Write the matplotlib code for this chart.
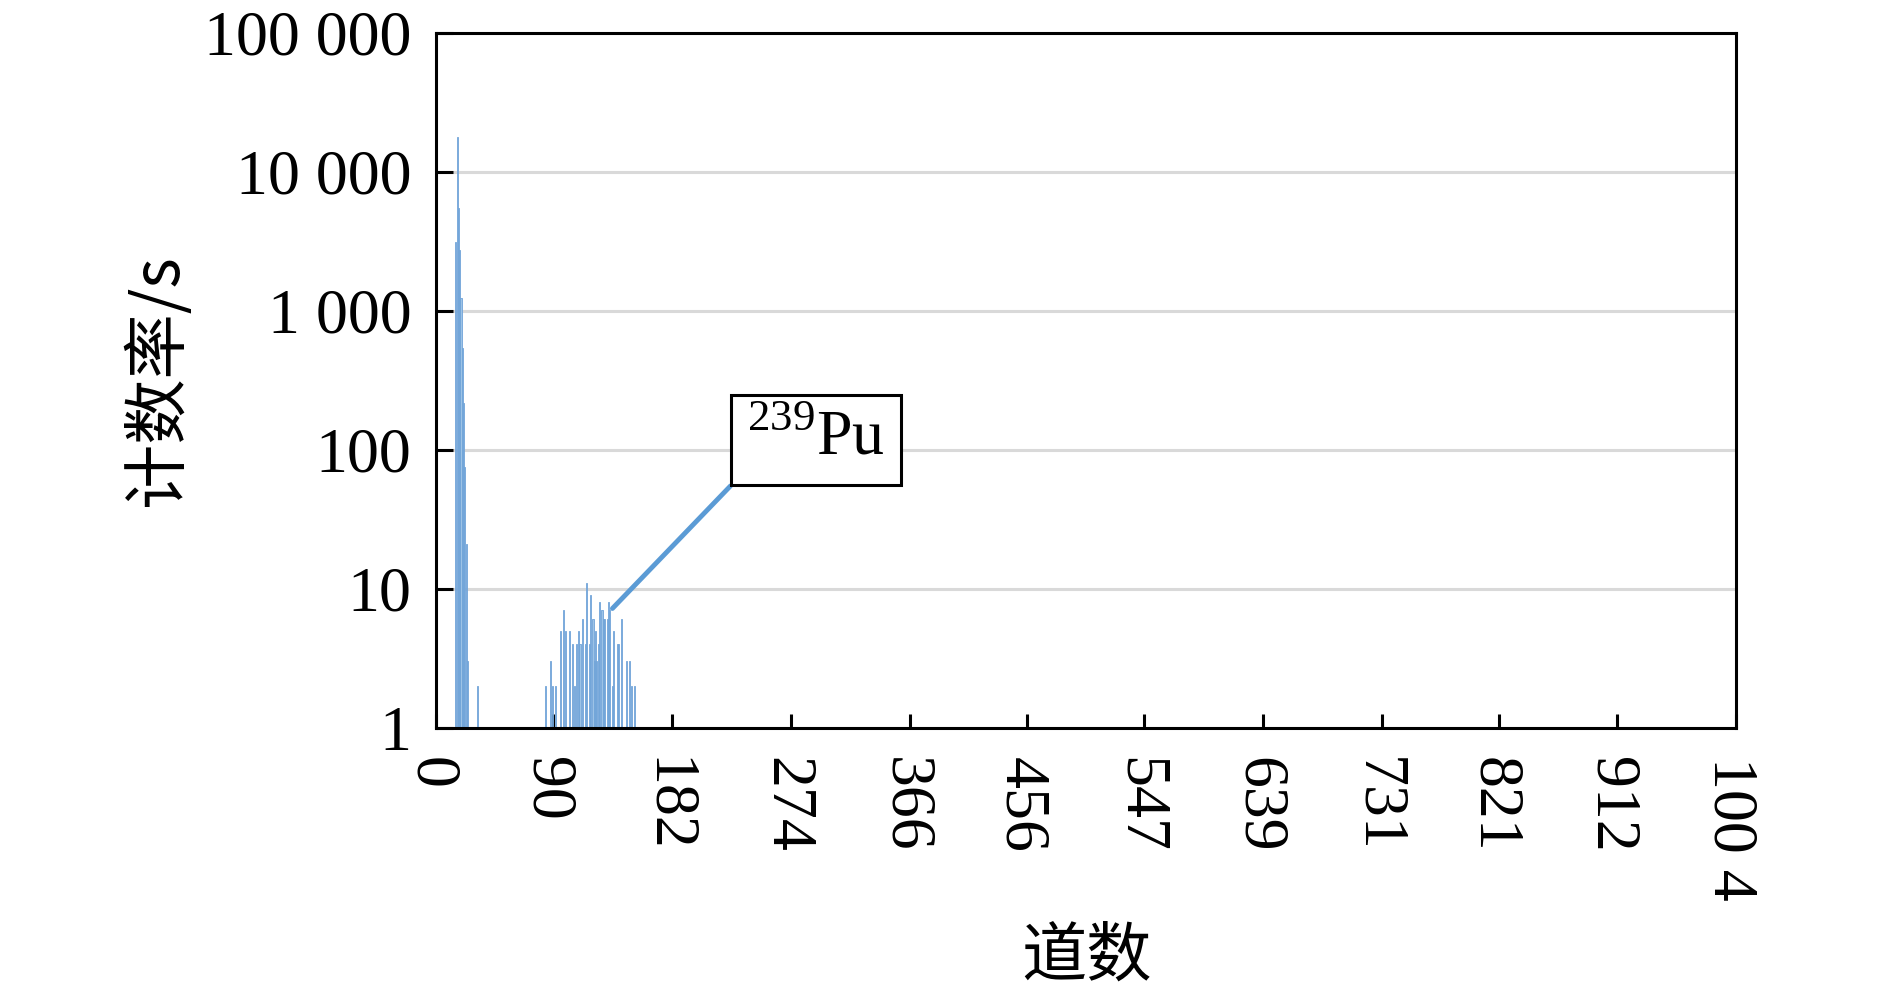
import matplotlib
matplotlib.use('Agg')
import matplotlib.pyplot as plt
import matplotlib.transforms as mtransforms
from matplotlib.ticker import NullLocator

# channel numbers with non-zero count rate
channels = [15, 16, 17, 18, 19, 20, 21, 22, 23, 24, 32,
            84, 88, 90, 92, 96, 98, 100, 103, 105, 107, 108, 110, 111,
            113, 115, 116, 118, 119, 121, 122, 123, 124, 125, 126, 128,
            129, 130, 132, 133, 134, 136, 137, 140, 141, 143, 147, 149,
            151, 153]
counts = [3090, 17700, 5450, 2730, 1235, 535, 216, 75, 21, 3, 2,
          2, 3, 2, 2, 5, 7, 5, 5, 4, 2, 4, 5, 4,
          6, 4, 11, 4, 9, 6, 3, 5, 3, 4, 8, 7,
          6, 6, 6, 8, 7, 2, 5, 4, 4, 6, 3, 3,
          2, 2]

x_ticks = [0, 90, 182, 274, 366, 456, 547, 639, 731, 821, 912, 1004]
x_tick_labels = ['0', '90', '182', '274', '366', '456', '547', '639',
                 '731', '821', '912', '100 4']
y_ticks = [1, 10, 100, 1000, 10000, 100000]
y_tick_labels = ['1', '10', '100', '1 000', '10 000', '100 000']

peak_label = r'$^{\mathrm{239}}$Pu'
peak_channel = 136
peak_value = 7.2

plt.rcParams['font.family'] = ['Liberation Serif', 'DejaVu Serif']
plt.rcParams['mathtext.fontset'] = 'custom'
plt.rcParams['mathtext.rm'] = 'Liberation Serif'

fig = plt.figure(figsize=(18.9, 9.91), dpi=100)
ax = fig.add_axes([0.2309, 0.2657, 0.6875, 0.7015])

ax.bar(channels, counts, width=0.9, color='#9dc3e6', edgecolor='#6fa3d8',
       linewidth=0.6, zorder=3)

ax.set_yscale('log')
ax.set_ylim(1, 100000)
ax.set_xlim(0, 1004)
ax.set_yticks(y_ticks)
ax.set_yticklabels(y_tick_labels)
ax.yaxis.set_minor_locator(NullLocator())
ax.set_xticks(x_ticks)
ax.set_xticklabels(x_tick_labels, rotation=-90, ha='center', va='top')

ax.tick_params(axis='both', direction='in', width=2.2, labelsize=46,
               colors='black')
ax.tick_params(axis='x', length=10, pad=21)
ax.tick_params(axis='y', length=12, pad=18)

# nudge the rotated x labels a little to the left, as in the original
shift = mtransforms.ScaledTranslation(-6 / 100, 0, fig.dpi_scale_trans)
for lab in ax.get_xticklabels():
    lab.set_transform(lab.get_transform() + shift)

# light grey horizontal grid
ax.yaxis.grid(True, color='#d9d9d9', linewidth=2.2, zorder=1)
ax.set_axisbelow(True)
for side in ax.spines.values():
    side.set_linewidth(2.2)
    side.set_color('black')
    side.set_zorder(5)

ax.set_ylabel('计数率/s', fontsize=47, family=['Noto Sans CJK SC', 'DejaVu Sans'])
ax.set_xlabel('道数', fontsize=47, family=['Noto Sans CJK SC', 'DejaVu Sans'])
ax.yaxis.set_label_coords(-0.188, 0.5)
ax.xaxis.set_label_coords(0.5, -0.282)

# boxed label with leader line to the Pu-239 peak
ax.annotate(peak_label, xy=(peak_channel, peak_value), xycoords='data',
            xytext=(0.292, 0.414), textcoords='axes fraction',
            ha='center', va='center', fontsize=46, zorder=6,
            bbox=dict(boxstyle='square,pad=0.25', fc='white', ec='black', lw=2.2),
            arrowprops=dict(arrowstyle='-', color='#5b9bd5', lw=3.5,
                            relpos=(0, 0), shrinkA=0, shrinkB=0))

fig.savefig('out.png', dpi=100)
